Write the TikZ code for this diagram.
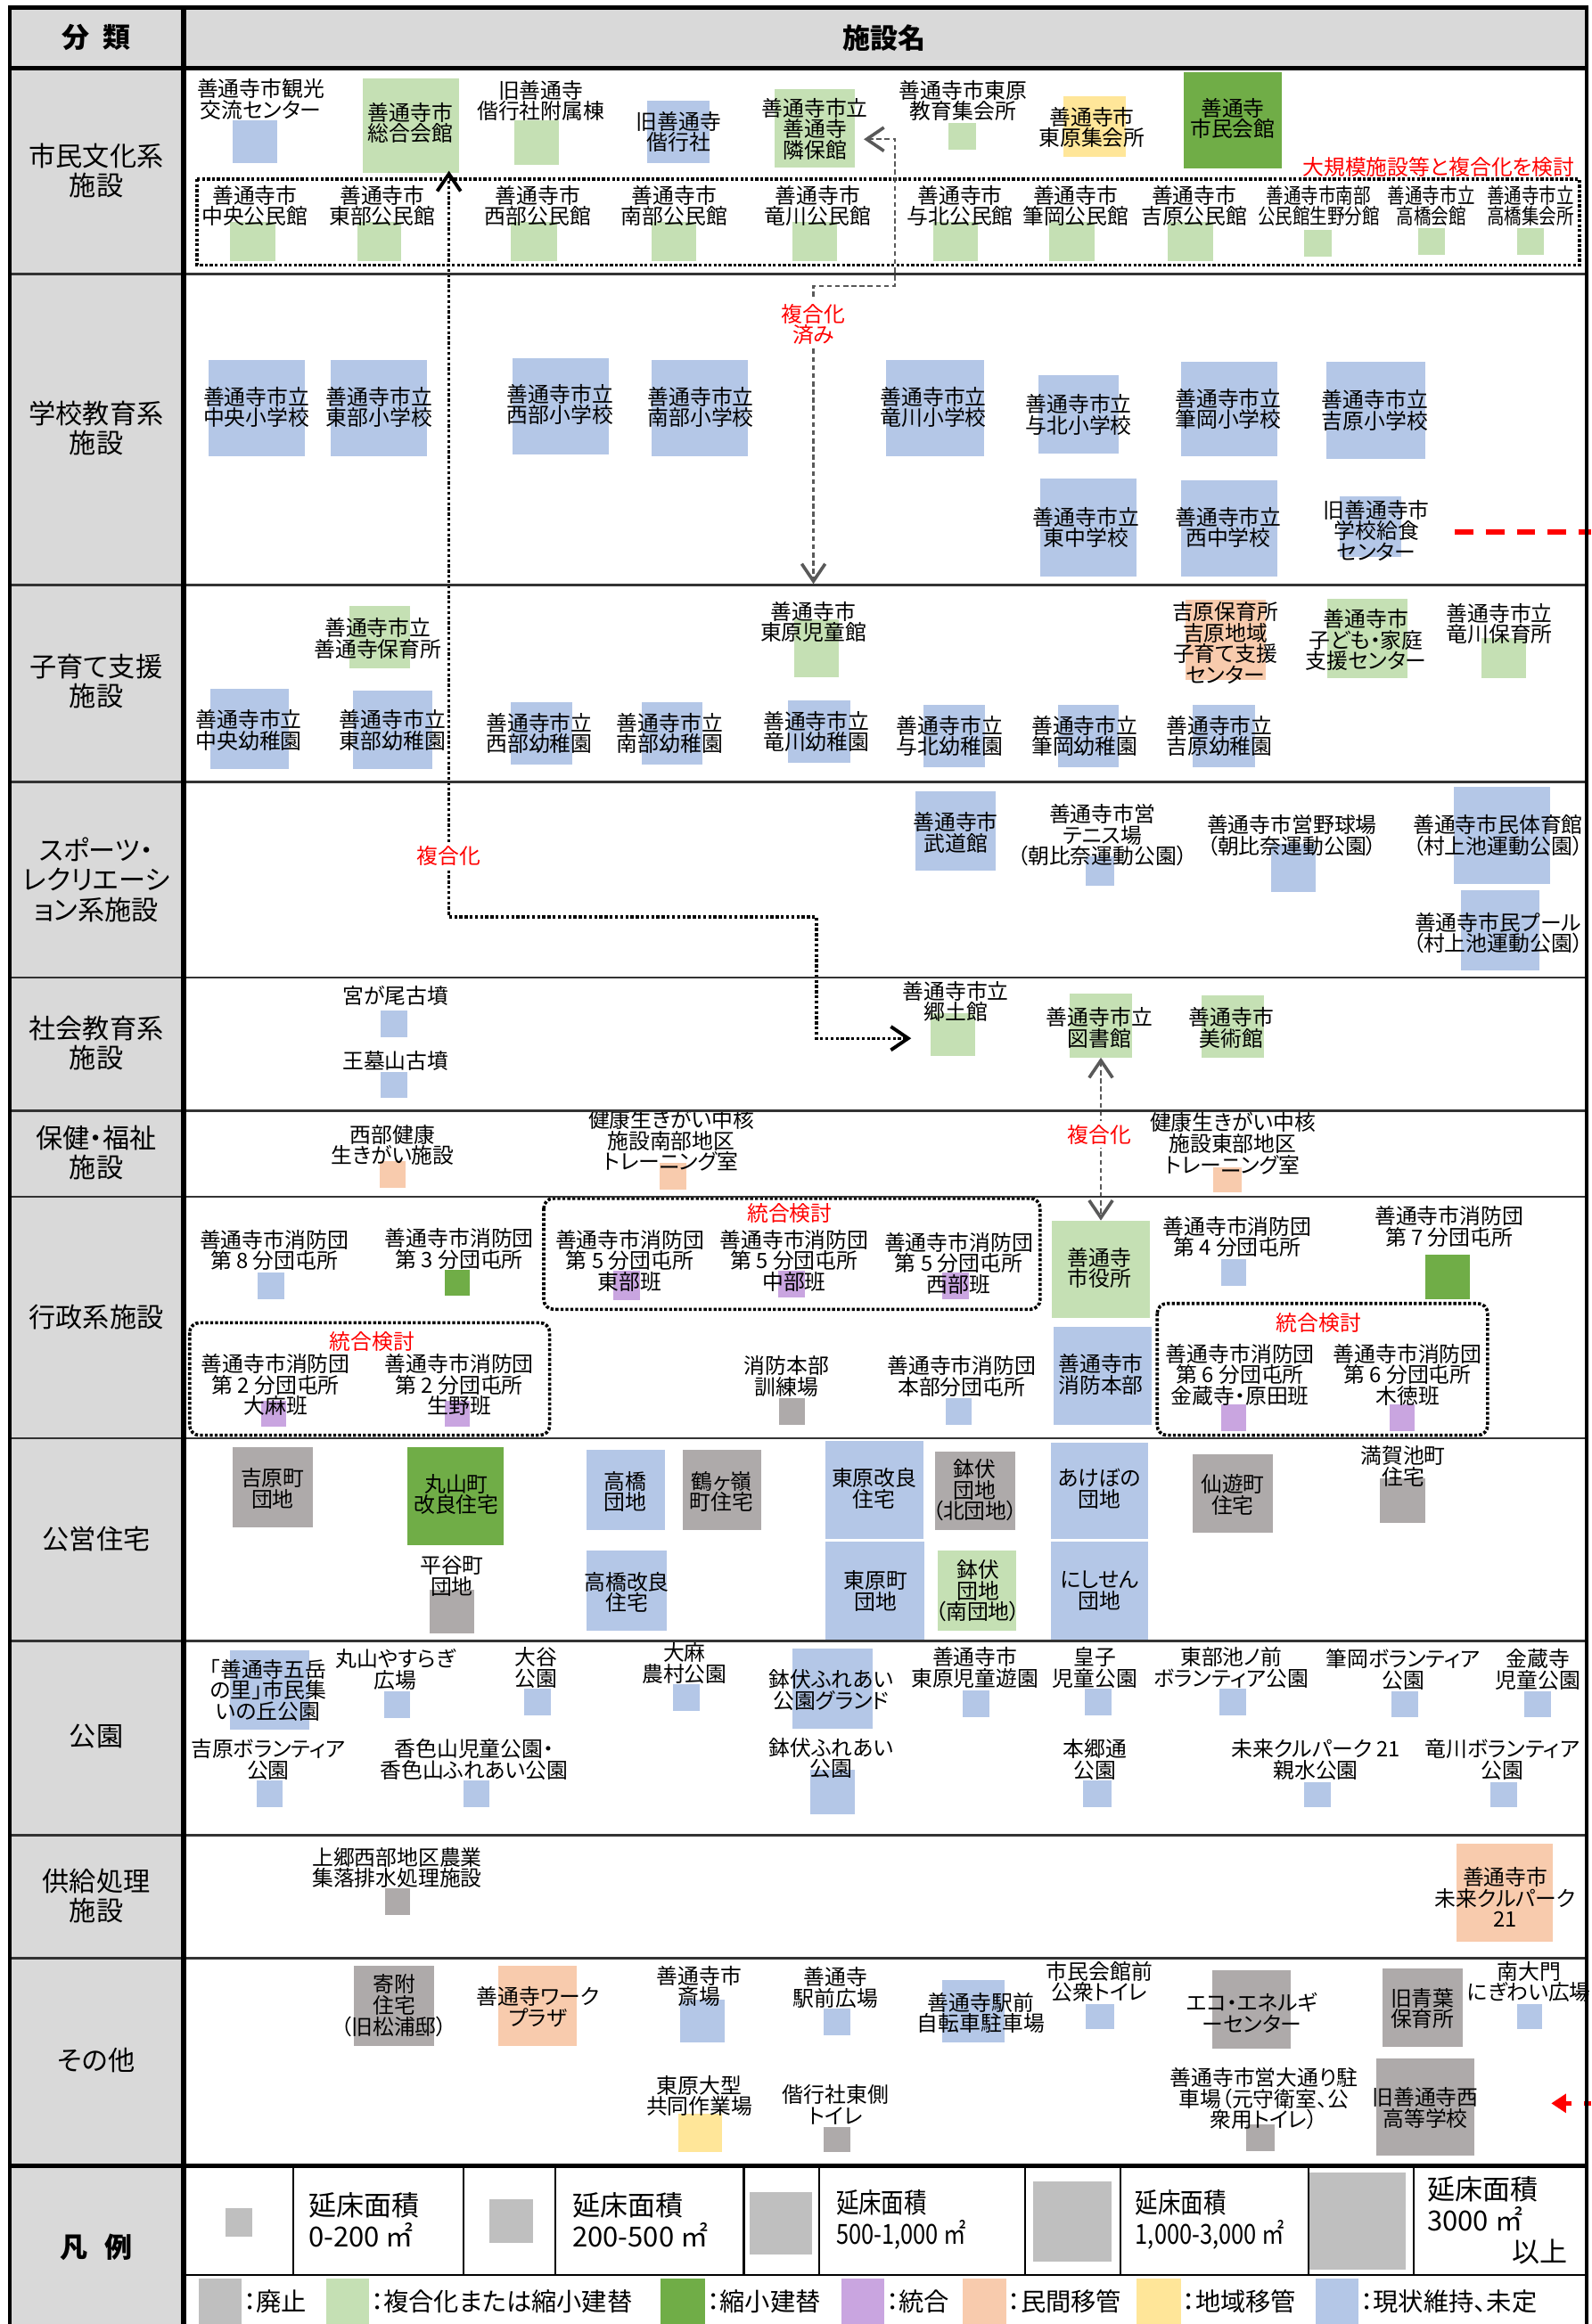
\documentclass[tikz,border=0pt]{standalone}
\usepackage{fontspec}
\setmainfont{Noto Sans CJK JP}[RawFeature=+palt]
\newfontfamily\jpcond{Noto Sans CJK JP}[RawFeature=+palt,FakeStretch=0.82]
\usetikzlibrary{fit,arrows.meta,calc}
\definecolor{cB}{HTML}{B4C7E7}
\definecolor{cLG}{HTML}{C5E0B4}
\definecolor{cDG}{HTML}{70AD47}
\definecolor{cGR}{HTML}{AEAAAA}
\definecolor{cPU}{HTML}{C9A5E0}
\definecolor{cPE}{HTML}{F8CBAD}
\definecolor{cYE}{HTML}{FFE699}
\definecolor{cLGR}{HTML}{BFBFBF}
\definecolor{hdr}{HTML}{D9D9D9}
\newcommand\facfont{\fontsize{8.6}{8.5}\selectfont}
\newcommand\sqbox[6]{\node[fit={(#3,#4) (#5,#6)}, inner sep=0pt, outer sep=0pt, fill=#2, draw=none] (#1) {};}
\newcommand\fac[9]{\sqbox{#1}{#2}{#3}{#4}{#5}{#6}\node[txt] (#1t) at (#7,#8) {#9};}
\tikzset{
 txt/.style={inner sep=0pt, align=center, font=\facfont},
 cat/.style={inner sep=0pt, align=center, font=\fontsize{10.9}{12}\selectfont},
 hd/.style={inner sep=0pt, font=\fontsize{11.2}{12}\selectfont\bfseries},
 redlab/.style={inner sep=0pt, align=center, text=red, font=\facfont},
 redlabw/.style={redlab, fill=white, inner sep=1.5pt},
 dotbox/.style={line width=1.3pt, dash pattern=on 1.2pt off 0.8pt},
 blackdot/.style={line width=1.2pt, dash pattern=on 1.2pt off 0.9pt},
 graydash/.style={line width=0.9pt, dash pattern=on 2pt off 1.3pt, draw=black!65},
 rowline/.style={line width=1pt, draw=black!80},
 leg/.style={inner sep=0pt, align=left, font=\fontsize{11.2}{12.6}\selectfont},
 legc/.style={inner sep=0pt, align=left, font=\jpcond\fontsize{11.2}{12.6}\selectfont},
 legb/.style={inner sep=0pt, anchor=west, font=\fontsize{10.2}{11}\selectfont},
}
\begin{document}
\begin{tikzpicture}[x=0.6pt,y=-0.6pt]
\useasboundingbox (0,0) rectangle (1074,1569);
% fills
\fill[hdr] (6,5) rectangle (1071,46);
\fill[hdr] (6,46) rectangle (124,1569);
% ---------- Row 1
\fac{kanko}{cB}{157}{81}{187}{110}{176}{67}{善通寺市観光\\交流センター}
\fac{sogo}{cLG}{245}{53}{310}{117}{277}{83}{善通寺市\\総合会館}
\fac{kaikofz}{cLG}{347}{81}{377}{111}{365}{68}{旧善通寺\\偕行社附属棟}
\fac{kaiko}{cB}{437}{68}{479}{110}{458}{89}{旧善通寺\\偕行社}
\fac{rinpo}{cLG}{523}{60}{577}{113}{550}{87}{善通寺市立\\善通寺\\隣保館}
\fac{kyoiku}{cLG}{640}{83}{659}{101}{650}{68}{善通寺市東原\\教育集会所}
\fac{toshu}{cYE}{718}{65}{760}{106}{737}{86}{善通寺市\\東原集会所}
\fac{shimin}{cDG}{799}{49}{865}{114}{832}{80}{善通寺\\市民会館}
\node[redlab] (kento) at (971,113) {大規模施設等と複合化を検討};
\fac{chuo}{cLG}{155}{150}{186}{176}{172}{139}{善通寺市\\中央公民館}
\fac{tobu}{cLG}{241}{150}{271}{176}{258}{139}{善通寺市\\東部公民館}
\fac{seibu}{cLG}{345}{150}{376}{176}{363}{139}{善通寺市\\西部公民館}
\fac{nanbu}{cLG}{440}{150}{470}{176}{455}{139}{善通寺市\\南部公民館}
\fac{tatsu}{cLG}{535}{150}{565}{176}{552}{139}{善通寺市\\竜川公民館}
\fac{yogi}{cLG}{630}{150}{660}{176}{648}{139}{善通寺市\\与北公民館}
\fac{fude}{cLG}{708}{150}{739}{176}{726}{139}{善通寺市\\筆岡公民館}
\fac{yoshi}{cLG}{788}{150}{819}{176}{806}{139}{善通寺市\\吉原公民館}
\renewcommand\facfont{\jpcond\fontsize{8.6}{8.5}\selectfont}
\fac{ikuno}{cLG}{880}{155}{899}{173}{890}{139}{善通寺市南部\\公民館生野分館}
\fac{takaK}{cLG}{957}{154}{975}{172}{966}{139}{善通寺市立\\高橋会館}
\fac{takaS}{cLG}{1024}{154}{1042}{172}{1033}{139}{善通寺市立\\高橋集会所}
\renewcommand\facfont{\fontsize{8.6}{8.5}\selectfont}
\draw[dotbox] (133,121) rectangle (1066,179);
% ---------- Row 2
\fac{shoChuo}{cB}{141}{243}{206}{308}{173}{275}{善通寺市立\\中央小学校}
\fac{shoTobu}{cB}{223}{243}{288}{308}{256}{275}{善通寺市立\\東部小学校}
\fac{shoSeibu}{cB}{346}{242}{411}{307}{378}{273}{善通寺市立\\西部小学校}
\fac{shoNanbu}{cB}{440}{243}{505}{308}{473}{275}{善通寺市立\\南部小学校}
\fac{shoTatsu}{cB}{598}{243}{664}{308}{630}{275}{善通寺市立\\竜川小学校}
\fac{shoYogi}{cB}{701}{253}{755}{306}{728}{280}{善通寺市立\\与北小学校}
\fac{shoFude}{cB}{797}{244}{862}{308}{829}{276}{善通寺市立\\筆岡小学校}
\fac{shoYoshi}{cB}{895}{244}{962}{310}{928}{277}{善通寺市立\\吉原小学校}
\fac{chuHigashi}{cB}{702}{323}{767}{389}{733}{356}{善通寺市立\\東中学校}
\fac{chuNishi}{cB}{797}{324}{862}{389}{829}{356}{善通寺市立\\西中学校}
\fac{kyushoku}{cB}{904}{335}{946}{376}{929}{358}{旧善通寺市\\学校給食\\センター}
% ---------- Row 3
\fac{hoiku}{cLG}{236}{409}{277}{451}{255}{431}{善通寺市立\\善通寺保育所}
\fac{jidokan}{cLG}{536}{418}{566}{457}{549}{420}{善通寺市\\東原児童館}
\fac{yoChuo}{cB}{142}{465}{195}{519}{168}{493}{善通寺市立\\中央幼稚園}
\fac{yoTobu}{cB}{238}{466}{292}{519}{265}{493}{善通寺市立\\東部幼稚園}
\fac{yoSeibu}{cB}{345}{474}{386}{516}{364}{495}{善通寺市立\\西部幼稚園}
\fac{yoNanbu}{cB}{433}{474}{474}{516}{452}{495}{善通寺市立\\南部幼稚園}
\fac{yoTatsu}{cB}{532}{473}{574}{515}{551}{494}{善通寺市立\\竜川幼稚園}
\fac{yoYogi}{cB}{623}{476}{665}{518}{641}{497}{善通寺市立\\与北幼稚園}
\fac{yoFude}{cB}{714}{476}{755}{518}{732}{497}{善通寺市立\\筆岡幼稚園}
\fac{yoYoshi}{cB}{805}{476}{847}{518}{823}{497}{善通寺市立\\吉原幼稚園}
\fac{yoshiHo}{cPE}{800}{405}{854}{459}{827}{434}{吉原保育所\\吉原地域\\子育て支援\\センター}
\fac{kodomo}{cLG}{896}{404}{950}{458}{922}{432}{善通寺市\\子ども・家庭\\支援センター}
\fac{tatsuHo}{cLG}{1000}{431}{1030}{458}{1012}{421}{善通寺市立\\竜川保育所}
% ---------- Row 4
\fac{budo}{cB}{618}{534}{672}{588}{645}{562}{善通寺市\\武道館}
\fac{tennis}{cB}{733}{578}{752}{598}{744}{564}{善通寺市営\\テニス場\\（朝比奈運動公園）}
\fac{yakyu}{cB}{858}{570}{888}{602}{872}{564}{善通寺市営野球場\\（朝比奈運動公園）}
\fac{taiiku}{cB}{981}{531}{1046}{597}{1011}{564}{善通寺市民体育館\\（村上池運動公園）}
\fac{pool}{cB}{986}{601}{1039}{655}{1011}{630}{善通寺市民プール\\（村上池運動公園）}
% ---------- Row 5
\fac{miyagao}{cB}{257}{682}{275}{700}{267}{672}{宮が尾古墳}
\fac{obo}{cB}{257}{724}{275}{741}{267}{716}{王墓山古墳}
\fac{kyodo}{cLG}{628}{684}{658}{713}{645}{676}{善通寺市立\\郷土館}
\fac{tosho}{cLG}{722}{671}{764}{714}{742}{694}{善通寺市立\\図書館}
\fac{bijutsu}{cLG}{811}{672}{853}{714}{831}{694}{善通寺市\\美術館}
% ---------- Row 6
\fac{seibuK}{cPE}{256}{784}{274}{802}{265}{773}{西部健康\\生きがい施設}
\fac{nanbuT}{cPE}{445}{785}{463}{803}{453}{770}{健康生きがい中核\\施設南部地区\\トレーニング室}
\fac{tobuT}{cPE}{819}{788}{838}{805}{832}{772}{健康生きがい中核\\施設東部地区\\トレーニング室}
% ---------- Row 7
\fac{sho8}{cB}{174}{859}{192}{877}{185}{844}{善通寺市消防団\\第 8 分団屯所}
\fac{sho3}{cDG}{300}{857}{317}{875}{310}{843}{善通寺市消防団\\第 3 分団屯所}
\fac{shoEe}{cPU}{414}{858}{432}{878}{425}{851}{善通寺市消防団\\第 5 分団屯所\\東部班}
\fac{shoEc}{cPU}{525}{858}{543}{876}{536}{851}{善通寺市消防団\\第 5 分団屯所\\中部班}
\fac{shoEw}{cPU}{636}{859}{654}{877}{647}{853}{善通寺市消防団\\第 5 分団屯所\\西部班}
\fac{shiyaku}{cLG}{710}{824}{776}{890}{742}{856}{善通寺\\市役所}
\fac{shobohq}{cB}{711}{896}{777}{962}{743}{928}{善通寺市\\消防本部}
\fac{sho4}{cB}{824}{850}{841}{868}{835}{835}{善通寺市消防団\\第 4 分団屯所}
\fac{sho7}{cDG}{962}{847}{992}{877}{978}{828}{善通寺市消防団\\第 7 分団屯所}
\fac{shoSk}{cPU}{824}{948}{841}{966}{837}{928}{善通寺市消防団\\第 6 分団屯所\\金蔵寺・原田班}
\fac{shoSm}{cPU}{938}{948}{955}{966}{950}{928}{善通寺市消防団\\第 6 分団屯所\\木徳班}
\fac{shoTo}{cPU}{176}{946}{193}{963}{186}{935}{善通寺市消防団\\第 2 分団屯所\\大麻班}
\fac{shoTi}{cPU}{300}{946}{317}{963}{310}{935}{善通寺市消防団\\第 2 分団屯所\\生野班}
\fac{kunren}{cGR}{526}{944}{543}{962}{531}{929}{消防本部\\訓練場}
\fac{honbu}{cB}{638}{944}{656}{962}{649}{929}{善通寺市消防団\\本部分団屯所}
\draw[dotbox, rounded corners=4pt] (367,809) rectangle (702,884);
\draw[dotbox, rounded corners=4pt] (781,880) rectangle (1004,969);
\draw[dotbox, rounded corners=4pt] (128,893) rectangle (371,969);
\node[redlab] (tg1) at (533,819) {統合検討};
\node[redlab] (tg2) at (890,893) {統合検討};
\node[redlab] (tg3) at (251,906) {統合検討};
% ---------- Row 8
\fac{yoshiD}{cGR}{157}{977}{211}{1031}{184}{1005}{吉原町\\団地}
\fac{maruyama}{cDG}{275}{977}{340}{1043}{308}{1009}{丸山町\\改良住宅}
\fac{hiratani}{cGR}{290}{1073}{320}{1103}{305}{1064}{平谷町\\団地}
\fac{takaD}{cB}{396}{979}{449}{1033}{422}{1007}{高橋\\団地}
\fac{tsuru}{cGR}{461}{979}{514}{1033}{487}{1007}{鶴ヶ嶺\\町住宅}
\fac{takaKR}{cB}{396}{1047}{450}{1101}{423}{1075}{高橋改良\\住宅}
\fac{toKairyo}{cB}{557}{973}{623}{1039}{590}{1005}{東原改良\\住宅}
\fac{toMachi}{cB}{557}{1041}{624}{1107}{591}{1074}{東原町\\団地}
\fac{hachiN}{cGR}{631}{980}{685}{1033}{658}{1006}{鉢伏\\団地\\（北団地）}
\fac{hachiS}{cLG}{633}{1047}{686}{1101}{660}{1074}{鉢伏\\団地\\（南団地）}
\fac{akebono}{cB}{709}{974}{775}{1039}{742}{1005}{あけぼの\\団地}
\fac{nishisen}{cB}{709}{1041}{775}{1107}{742}{1074}{にしせん\\団地}
\fac{senyu}{cGR}{805}{982}{859}{1035}{832}{1009}{仙遊町\\住宅}
\fac{mangaike}{cGR}{931}{998}{962}{1028}{947}{990}{満賀池町\\住宅}
% ---------- Row 9
\fac{gogaku}{cB}{155}{1114}{209}{1168}{181}{1141}{「善通寺五岳\\の里」市民集\\いの丘公園}
\fac{yasuragi}{cB}{259}{1142}{277}{1160}{267}{1127}{丸山やすらぎ\\広場}
\fac{otani}{cB}{354}{1140}{372}{1158}{362}{1126}{大谷\\公園}
\fac{oasa}{cB}{454}{1137}{472}{1155}{462}{1123}{大麻\\農村公園}
\fac{yoshiV}{cB}{173}{1202}{191}{1220}{181}{1188}{吉原ボランティア\\公園}
\fac{koshiki}{cB}{313}{1202}{330}{1220}{320}{1188}{香色山児童公園・\\香色山ふれあい公園}
\fac{hachiG}{cB}{535}{1113}{589}{1167}{561}{1141}{鉢伏ふれあい\\公園グランド}
\fac{hachiP}{cB}{547}{1195}{577}{1225}{561}{1187}{鉢伏ふれあい\\公園}
\fac{toYuen}{cB}{650}{1141}{668}{1159}{658}{1126}{善通寺市\\東原児童遊園}
\fac{oji}{cB}{732}{1140}{750}{1158}{739}{1126}{皇子\\児童公園}
\fac{ikenomae}{cB}{823}{1140}{841}{1158}{831}{1126}{東部池ノ前\\ボランティア公園}
\fac{fudeV}{cB}{939}{1142}{957}{1159}{947}{1127}{筆岡ボランティア\\公園}
\fac{konzo}{cB}{1029}{1142}{1047}{1159}{1038}{1127}{金蔵寺\\児童公園}
\fac{hongo}{cB}{731}{1202}{750}{1220}{739}{1188}{本郷通\\公園}
\fac{shinsui}{cB}{880}{1203}{898}{1220}{888}{1188}{未来クルパーク 21\\親水公園}
\fac{tatsuV}{cB}{1006}{1203}{1024}{1220}{1014}{1188}{竜川ボランティア\\公園}
% ---------- Row 10
\fac{haisui}{cGR}{260}{1275}{277}{1293}{268}{1261}{上郷西部地区農業\\集落排水処理施設}
\fac{mirai}{cPE}{983}{1245}{1048}{1311}{1016}{1281}{善通寺市\\未来クルパーク\\21}
% ---------- Row 11
\fac{kifu}{cGR}{239}{1327}{293}{1381}{266}{1354}{寄附\\住宅\\（旧松浦邸）}
\fac{work}{cPE}{336}{1327}{389}{1381}{363}{1355}{善通寺ワーク\\プラザ}
\fac{saijo}{cB}{459}{1350}{489}{1379}{472}{1341}{善通寺市\\斎場}
\fac{kyodoSa}{cYE}{458}{1427}{487}{1453}{472}{1415}{東原大型\\共同作業場}
\fac{ekimae}{cB}{556}{1356}{574}{1374}{564}{1342}{善通寺\\駅前広場}
\fac{kaikoT}{cGR}{556}{1436}{574}{1453}{564}{1421}{偕行社東側\\トイレ}
\fac{churin}{cB}{636}{1337}{678}{1379}{662}{1359}{善通寺駅前\\自転車駐車場}
\fac{kaikanT}{cB}{733}{1353}{752}{1370}{742}{1338}{市民会館前\\公衆トイレ}
\fac{eco}{cGR}{818}{1330}{871}{1383}{845}{1359}{エコ・エネルギ\\ーセンター}
\fac{aoba}{cGR}{933}{1329}{987}{1382}{960}{1356}{旧青葉\\保育所}
\fac{nandaimon}{cB}{1024}{1353}{1041}{1370}{1032}{1338}{南大門\\にぎわい広場}
\fac{odori}{cGR}{841}{1434}{860}{1452}{853}{1417}{善通寺市営大通り駐\\車場（元守衛室、公\\衆用トイレ）}
\fac{nishiKo}{cGR}{929}{1390}{995}{1455}{962}{1423}{旧善通寺西\\高等学校}
% ---------- connectors
\draw[graydash, {Straight Barb[length=7pt,width=9.5pt,line width=1.3pt]}-{Straight Barb[length=7pt,width=9.5pt,line width=1.3pt]}]
  ([xshift=3.6pt,yshift=-4.5pt]rinpo.east) -| (604,193) -| ([yshift=7pt]jidokant.north);
\draw[blackdot, {Straight Barb[length=7pt,width=9.5pt,line width=1.4pt]}-{Straight Barb[length=7pt,width=9.5pt,line width=1.4pt]}]
  ([xshift=-4.2pt,yshift=1pt]sogo.south east) |- (551,619) |- ([xshift=-7.8pt,yshift=-1.5pt]kyodo.west);
\draw[graydash, {Straight Barb[length=7pt,width=9.5pt,line width=1.3pt]}-{Straight Barb[length=7pt,width=9.5pt,line width=1.3pt]}]
  (tosho.south) -- (tosho.south |- shiyaku.north);
\node[redlabw] (fk1) at (549,219) {複合化\\済み};
\node[redlabw] (fk2) at (303,578) {複合化};
\node[redlabw] (fk3) at (742,766) {複合化};
\coordinate (kyuOut) at (1074,359);
\coordinate (nishiOut) at (1074,1420);
\draw[red, line width=2pt, dash pattern=on 7.5pt off 5pt] ($(kyushoku.east)+(36,3.5)$) -- (kyuOut);
\draw[red, line width=2pt, dash pattern=on 3pt off 5pt, -{Triangle[length=6pt,width=7.5pt]}] (nishiOut) -- ($(nishiKo.east)+(52,-2.5)$);
% ---------- categories
\node[hd] (h1) at (65,25.5) {分\hspace{0.5em}類};
\node[hd] (h2) at (597,25.5) {施設名};
\node[cat] (c1) at (65,115) {市民文化系\\施設};
\node[cat] (c2) at (65,289) {学校教育系\\施設};
\node[cat] (c3) at (65,460) {子育て支援\\施設};
\node[cat] (c4) at (65,594) {スポーツ・\\レクリエーシ\\ョン系施設};
\node[cat] (c5) at (65,704) {社会教育系\\施設};
\node[cat] (c6) at (65,778) {保健・福祉\\施設};
\node[cat] (c7) at (65,889) {行政系施設};
\node[cat] (c8) at (65,1039) {公営住宅};
\node[cat] (c9) at (65,1172) {公園};
\node[cat] (c10) at (65,1280) {供給処理\\施設};
\node[cat] (c11) at (65,1391) {その他};
\node[hd] (c12) at (65,1517) {凡\hspace{0.6em}例};
% ---------- legend
\sqbox{sq1}{cLGR}{152}{1491}{170}{1510}
\sqbox{sq2}{cLGR}{330}{1485}{360}{1514}
\sqbox{sq3}{cLGR}{506}{1480}{548}{1522}
\sqbox{sq4}{cLGR}{697}{1473}{750}{1527}
\sqbox{sq5}{cLGR}{884}{1467}{949}{1532}
\node[leg, anchor=west] (lg1) at (208,1498.5) {延床面積\\0-200 ㎡};
\node[leg, anchor=west] (lg2) at (386,1498.5) {延床面積\\200-500 ㎡};
\node[legc, anchor=west] (lg3) at (564,1498.5) {延床面積\\500-1,000 ㎡};
\node[legc, anchor=west] (lg4) at (766,1498.5) {延床面積\\1,000-3,000 ㎡};
\node[leg, anchor=west] (lg5) at (963,1488) {延床面積\\3000 ㎡};
\node[leg, anchor=east] (lg6) at (1058,1520.5) {以上};
\sqbox{lk1}{cLGR}{134}{1538}{163}{1569}
\node[legb] (lk1t) at (164,1554) {：廃止};
\sqbox{lk2}{cLG}{220}{1538}{249}{1569}
\node[legb] (lk2t) at (250,1554) {：複合化または縮小建替};
\sqbox{lk3}{cDG}{446}{1538}{476}{1569}
\node[legb] (lk3t) at (477,1554) {：縮小建替};
\sqbox{lk4}{cPU}{568}{1538}{597}{1569}
\node[legb] (lk4t) at (598,1554) {：統合};
\sqbox{lk5}{cPE}{650}{1538}{679}{1569}
\node[legb] (lk5t) at (680,1554) {：民間移管};
\sqbox{lk6}{cYE}{767}{1538}{797}{1569}
\node[legb] (lk6t) at (798,1554) {：地域移管};
\sqbox{lk7}{cB}{888}{1538}{917}{1569}
\node[legb] (lk7t) at (918,1554) {：現状維持、未定};
% ---------- grid
\foreach \yy in {185,395,528,660,750,808,971,1108,1239,1322}
  \draw[rowline] (6,\yy) -- (1071,\yy);
\draw[line width=1.6pt] (6,46) -- (1071,46);
\draw[line width=1.8pt] (6,1462) -- (1071,1462);
\draw[line width=0.8pt] (124,1536) -- (1071,1536);
\foreach \xx in {198,313,375,502,553,692,756,883,954}
  \draw[line width=0.8pt] (\xx,1462) -- (\xx,1536);
\draw[line width=2pt] (124,5) -- (124,1569);
\draw[line width=1.6pt] (6.5,1569) -- (6.5,5) -- (1071,5) -- (1071,1569);
\end{tikzpicture}
\end{document}
